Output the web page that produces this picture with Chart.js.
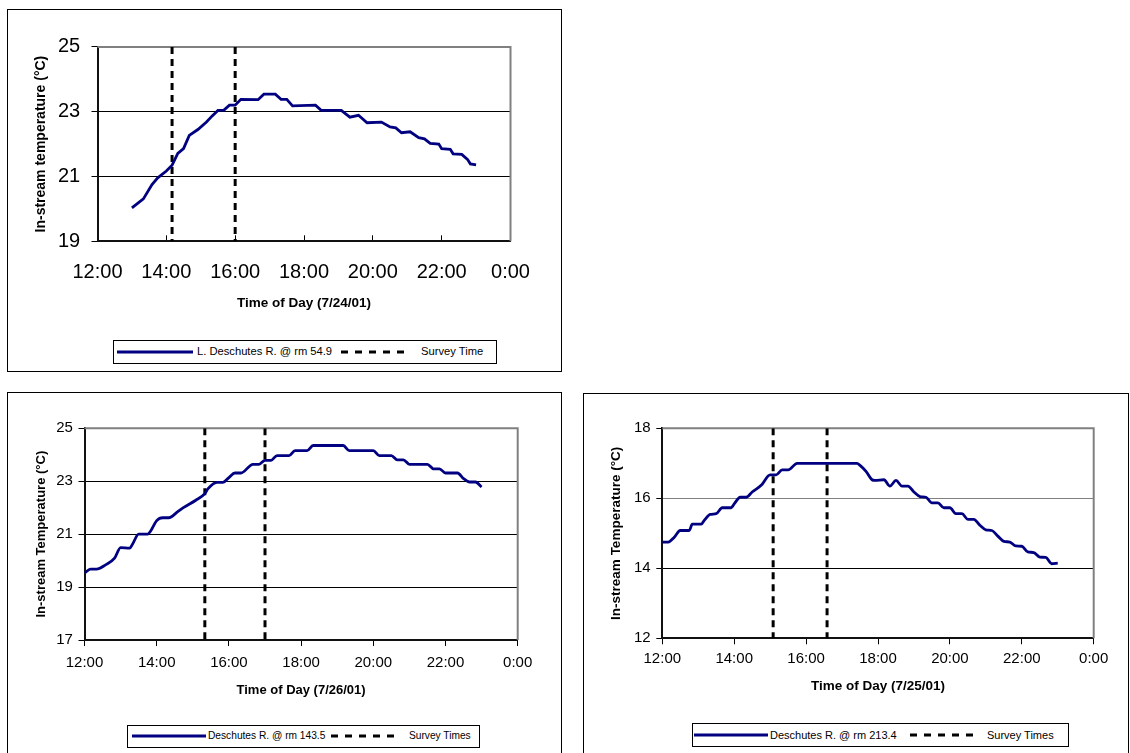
<!DOCTYPE html>
<html><head><meta charset="utf-8">
<script src="https://cdn.jsdelivr.net/npm/chart.js@4.4.1/dist/chart.umd.min.js"></script>
<style>
body{margin:0;background:#fff;width:1130px;height:753px;overflow:hidden;position:relative;font-family:"Liberation Sans",Arial,sans-serif;}
.box{position:absolute;border:1px solid #000;box-sizing:border-box;background:#fff;}
.box canvas{position:absolute;left:0;top:0;}
.legend{position:absolute;border:1px solid #000;box-sizing:border-box;background:#fff;}
.legend span{position:absolute;white-space:nowrap;line-height:1;color:#000;transform:translateY(-50%);}
.legend svg{position:absolute;overflow:visible;}
</style></head><body>
<div class="box" id="b1" style="left:7px;top:9px;width:555px;height:363px;"><canvas id="c1"></canvas></div>
<div class="box" id="b2" style="left:7px;top:392px;width:555px;height:380px;"><canvas id="c2"></canvas></div>
<div class="box" id="b3" style="left:583px;top:393px;width:546px;height:380px;"><canvas id="c3"></canvas></div>
<script>
// ---------- DATA ----------
const xTickLabels = ["12:00","14:00","16:00","18:00","20:00","22:00","0:00"];

const series1Name = "L. Deschutes R. @ rm 54.9";
const survey1Name = "Survey Time";
const times1 = ["13:00","13:20","13:35","13:45","14:00","14:10","14:20","14:30","14:40","14:55","15:10","15:20","15:30","15:40","15:50","16:00","16:10","16:40","16:50","17:10","17:20","17:30","17:40","18:20","18:30","19:05","19:20","19:35","19:50","20:15","20:30","20:40","20:50","21:05","21:20","21:30","21:40","21:55","22:00","22:15","22:20","22:35","22:45","22:50","23:00"];
const temps1 = [20.03,20.31,20.75,20.96,21.17,21.35,21.71,21.86,22.27,22.45,22.68,22.87,23.04,23.04,23.2,23.2,23.38,23.37,23.54,23.54,23.38,23.38,23.18,23.2,23.04,23.04,22.83,22.89,22.66,22.68,22.53,22.5,22.35,22.38,22.2,22.16,22.02,22.0,21.86,21.84,21.70,21.68,21.53,21.39,21.36];
const surveyTimes1 = ["14:10","16:00"];
const yTicks1 = [19,21,23,25];

const series2Name = "Deschutes R. @ rm 143.5";
const survey2Name = "Survey Times";
const times2 = ["12:00","12:10","12:20","12:35","12:50","13:00","13:15","13:20","13:30","13:45","13:50","14:00","14:10","14:20","14:35","14:45","15:05","15:20","15:25","15:40","15:50","16:00","16:10","16:20","16:40","16:50","17:00","17:10","17:20","17:40","17:50","18:10","18:20","19:10","19:20","20:00","20:10","20:30","20:40","20:50","21:00","21:30","21:40","21:50","22:00","22:20","22:30","22:40","22:50","23:00"];
const temps2 = [19.53,19.68,19.68,19.84,20.09,20.49,20.47,20.63,21.0,21.0,21.12,21.51,21.62,21.62,21.85,22.01,22.28,22.53,22.71,22.96,22.96,23.14,23.31,23.31,23.64,23.64,23.79,23.79,23.97,23.97,24.16,24.16,24.35,24.35,24.16,24.16,23.97,23.97,23.81,23.81,23.64,23.64,23.47,23.47,23.31,23.31,23.10,22.97,22.97,22.78];
const surveyTimes2 = ["15:20","17:00"];
const yTicks2 = [17,19,21,23,25];

const series3Name = "Deschutes R. @ rm 213.4";
const survey3Name = "Survey Times";
const times3 = ["12:00","12:10","12:20","12:30","12:45","12:50","13:05","13:10","13:20","13:30","13:40","13:55","14:00","14:10","14:20","14:30","14:45","15:00","15:10","15:20","15:30","15:45","17:25","17:30","17:40","17:50","17:55","18:10","18:20","18:30","18:40","18:50","19:00","19:10","19:20","19:30","19:40","19:50","20:00","20:10","20:20","20:30","20:40","20:50","21:00","21:10","21:20","21:30","21:40","21:50","22:00","22:10","22:20","22:30","22:40","22:50","23:00"];
const temps3 = [14.75,14.75,14.89,15.08,15.08,15.26,15.26,15.37,15.54,15.56,15.73,15.73,15.84,16.03,16.03,16.18,16.37,16.67,16.67,16.81,16.81,17.0,17.0,16.94,16.77,16.53,16.51,16.53,16.35,16.51,16.35,16.35,16.18,16.05,16.03,15.87,15.87,15.73,15.73,15.56,15.56,15.40,15.40,15.23,15.10,15.08,14.92,14.77,14.75,14.64,14.63,14.47,14.45,14.32,14.31,14.13,14.15];
const surveyTimes3 = ["15:05","16:35"];
const yTicks3 = [12,14,16,18];

// ---------- HELPERS ----------
const FONT = '"Liberation Sans", Arial, sans-serif';
function hrs(s){ const p = s.split(':'); return (+p[0]) + (+p[1])/60; }
function tickLabel(v){ const i = Math.round((v-12)/2); return xTickLabels[i] !== undefined ? xTickLabels[i] : ''; }

const framePlugin = {
  id:'frame',
  beforeDatasetsDraw(chart){
    const a = chart.chartArea, c = chart.ctx;
    c.save(); c.strokeStyle = '#808080'; c.lineWidth = 2;
    c.beginPath(); c.moveTo(a.left, a.top); c.lineTo(a.right, a.top); c.lineTo(a.right, a.bottom); c.stroke();
    c.restore();
  }
};

function makeChart(cfg){
  const canvas = document.getElementById(cfg.id);
  canvas.width = cfg.w; canvas.height = cfg.h;
  canvas.style.width = cfg.w+'px'; canvas.style.height = cfg.h+'px';
  const yMin = cfg.yTicks[0], yMax = cfg.yTicks[cfg.yTicks.length-1];
  const lineData = cfg.times.map((t,i)=>({x:hrs(t), y:cfg.temps[i]}));
  const surveyData = [];
  cfg.survey.forEach(t=>{ const x = hrs(t); surveyData.push({x:x,y:yMax},{x:x,y:yMin},{x:x,y:null}); });
  return new Chart(canvas, {
    type:'line',
    data:{datasets:[
      {label:cfg.name, data:lineData, borderColor:'#000080', borderWidth:2.8, pointRadius:0,
       tension: cfg.smooth ? 0.4 : 0, cubicInterpolationMode: cfg.smooth ? 'monotone' : 'default', fill:false},
      {label:cfg.surveyName, data:surveyData, borderColor:'#000', borderWidth:3, borderDash:[7,5],
       pointRadius:0, spanGaps:false, tension:0, fill:false}
    ]},
    options:{
      responsive:false, animation:false, devicePixelRatio:1,
      layout:{padding:{left:0, top:cfg.area.top, right:cfg.w-cfg.area.right, bottom:cfg.h-cfg.area.bottom-cfg.xH}},
      plugins:{legend:{display:false}, tooltip:{enabled:false}},
      scales:{
        x:{type:'linear', min:12, max:24,
          afterFit(s){ s.height = cfg.xH; },
          afterBuildTicks(s){ s.ticks = xTickLabels.map((l,i)=>({value:12+2*i})); },
          ticks:{stepSize:2, callback:tickLabel, color:'#000', padding:cfg.xPad, maxRotation:0, autoSkip:false,
                 font:{family:FONT, size:cfg.tickSize}},
          grid:{display:true, drawOnChartArea:false, drawTicks:true, tickLength:cfg.xTickLen, tickColor:'#000', tickWidth:1},
          border:{display:true, color:'#111', width:2},
          title:{display:true, text:cfg.xTitle, color:'#000', padding:{top:0,bottom:0},
                 font:{family:FONT, size:cfg.xTitleSize, weight:'bold'}}
        },
        y:{type:'linear', min:yMin, max:yMax,
          afterFit(s){ s.width = cfg.area.left; },
          afterBuildTicks(s){ s.ticks = cfg.yTicks.map(v=>({value:v})); },
          ticks:{color:'#000', padding:cfg.yPad, font:{family:FONT, size:cfg.tickSize}},
          grid:{color:(c)=> (cfg.grayGrid.indexOf(c.tick && c.tick.value) >= 0 ? '#808080' : '#000'),
                lineWidth:1, drawTicks:true, tickLength:6, tickColor:'#000', tickWidth:1},
          border:{display:true, color:'#111', width:2},
          title:{display:true, text:cfg.yTitle, color:'#000', padding:{top:cfg.yTitlePad,bottom:0},
                 font:{family:FONT, size:cfg.yTitleSize, weight:'bold'}}
        }
      }
    },
    plugins:[framePlugin]
  });
}

function makeLegend(L){
  const d = document.createElement('div');
  d.className = 'legend';
  d.style.left = L.left+'px'; d.style.top = L.top+'px';
  d.style.width = L.width+'px'; d.style.height = L.height+'px';
  const ox = L.left+1, oy = L.top+1;
  const cy = L.cy - oy;
  function line(x1,x2,color,dash){
    const s = document.createElementNS('http://www.w3.org/2000/svg','svg');
    s.setAttribute('width', x2-x1); s.setAttribute('height', 6);
    s.style.left = (x1-ox)+'px'; s.style.top = (cy-3)+'px';
    const l = document.createElementNS('http://www.w3.org/2000/svg','line');
    l.setAttribute('x1',0); l.setAttribute('x2',x2-x1); l.setAttribute('y1',3); l.setAttribute('y2',3);
    l.setAttribute('stroke',color); l.setAttribute('stroke-width',3);
    if (dash) l.setAttribute('stroke-dasharray', dash);
    s.appendChild(l); d.appendChild(s);
  }
  function text(x,t){
    const sp = document.createElement('span');
    sp.textContent = t; sp.style.left = (x-ox)+'px'; sp.style.top = cy+'px';
    sp.style.fontSize = L.fontSize+'px';
    d.appendChild(sp);
  }
  line(L.s1[0], L.s1[1], '#000080', null); text(L.t1, L.name1);
  line(L.s2[0], L.s2[1], '#000', '7,7'); text(L.t2, L.name2);
  document.body.appendChild(d);
}

// ---------- CHARTS ----------
makeChart({id:'c1', w:553, h:361, times:times1, temps:temps1, survey:surveyTimes1, yTicks:yTicks1,
  name:series1Name, surveyName:survey1Name, smooth:false, grayGrid:[25],
  area:{left:89.5, top:36.9, right:502.5, bottom:231.3}, xH:70.1, xTickLen:-6, xPad:24.7, yPad:11.3, tickSize:20,
  xTitle:'Time of Day (7/24/01)', xTitleSize:13.5, yTitle:'In-stream temperature (°C)', yTitleSize:14, yTitlePad:24.4});
makeChart({id:'c2', w:553, h:361, times:times2, temps:temps2, survey:surveyTimes2, yTicks:yTicks2,
  name:series2Name, surveyName:survey2Name, smooth:true, grayGrid:[25],
  area:{left:76.5, top:35.3, right:509.7, bottom:247}, xH:57.8, xTickLen:6, xPad:7.7, yPad:5.6, tickSize:15,
  xTitle:'Time of Day (7/26/01)', xTitleSize:13, yTitle:'In-stream Temperature (°C)', yTitleSize:13, yTitlePad:25.2});
makeChart({id:'c3', w:544, h:361, times:times3, temps:temps3, survey:surveyTimes3, yTicks:yTicks3,
  name:series3Name, surveyName:survey3Name, smooth:true, grayGrid:[18,16],
  area:{left:78.3, top:34.3, right:509.7, bottom:244.3}, xH:56.5, xTickLen:6, xPad:6, yPad:5.6, tickSize:15,
  xTitle:'Time of Day (7/25/01)', xTitleSize:13.5, yTitle:'In-stream Temperature (°C)', yTitleSize:13.5, yTitlePad:24.3});

makeLegend({left:113, top:340, width:384, height:24, cy:351.5, fontSize:11.2,
  s1:[117,193], t1:197, name1:series1Name, s2:[341,410], t2:421, name2:survey1Name});
makeLegend({left:127, top:725, width:353, height:23, cy:736, fontSize:10.2,
  s1:[132,206], t1:208, name1:series2Name, s2:[331,398], t2:409, name2:survey2Name});
makeLegend({left:692, top:723, width:377, height:24, cy:734.5, fontSize:11,
  s1:[694,768], t1:770, name1:series3Name, s2:[910,975], t2:987, name2:survey3Name});
</script>
</body></html>
